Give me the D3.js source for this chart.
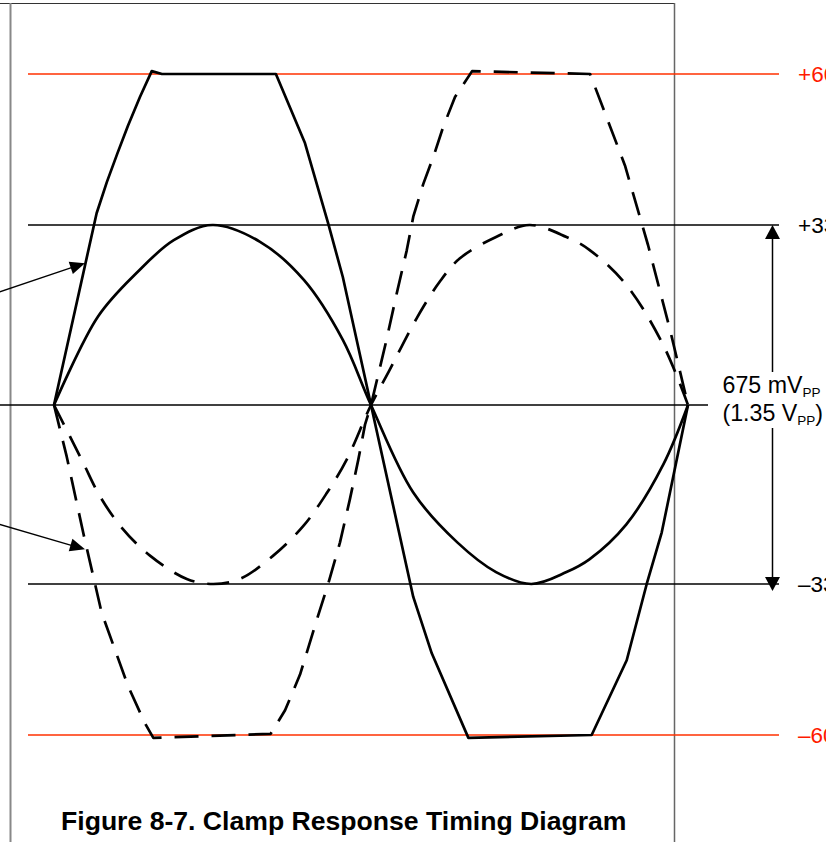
<!DOCTYPE html>
<html>
<head>
<meta charset="utf-8">
<script src="https://cdn.jsdelivr.net/npm/d3@7"></script>
<style>
  html, body { margin: 0; padding: 0; background: #fff; overflow: hidden; }
  svg { display: block; font-family: "Liberation Sans", Arial, sans-serif; }
</style>
</head>
<body>
<svg id="chart" width="826" height="842"></svg>
<script>
// ---- data (phase in degrees, level in mV) ----
const guideLevels = [600, 337.5, 0, -337.5, -600];
const guideLabels = ["+600 mV", "+337.5 mV", "", "\u2013337.5 mV", "\u2013600 mV"];
const guideColors = ["red", "black", "black", "black", "red"];

const smallSolidPhase = [0, 25, 47, 68, 90, 117, 142, 164, 180, 204, 229, 251, 271, 291, 304, 325, 346, 360];
const smallSolidMv    = [0, 166, 248, 309, 337.5, 306, 234, 122, 0, -165, -259, -315, -337.5, -315, -291, -225, -112, 0];

const smallDashPhase = [0, 15.7, 26.1, 38.4, 54.5, 75.4, 90.5, 105.6, 124.5, 141.6, 154.9, 166.2, 180, 190, 206, 219, 230.5, 251, 270, 291, 304, 325, 346, 360];
const smallDashMv    = [0, -103, -172, -231, -284, -328, -337.5, -328, -284, -228, -166, -103, 0, 62, 163, 231, 275, 315, 337.5, 315, 291, 225, 112, 0];

const clipSolidPhase = [0, 24.2, 30, 36, 42, 48.8, 55.5, 61.3, 126, 142.5, 155.6, 164, 180, 204, 214.5, 235.3, 305.3, 325.2, 336.6, 345.1, 360];
const clipSolidMv    = [0, 358, 412, 462, 510, 560, 605, 600, 600, 480, 341, 240, 0, -360, -458, -605, -600, -470, -337, -240, 0];

const clipDashPhase = [0, 7.2, 16.6, 27.1, 42.2, 51.7, 56.4, 123, 131.2, 139.7, 149.2, 155.8, 162.4, 168, 172.8, 176.6, 180, 188.8, 194.6, 200.3, 204, 209.7, 215.4, 221, 227.7, 237.4, 304.4, 324.2, 337.3, 349.8, 360];
const clipDashMv    = [0, -97, -241, -388, -516, -580, -605, -598, -557, -495, -400, -336, -259, -178, -103, -37, 0, 122, 209, 290, 352, 409, 456, 508, 560, 605, 600, 441, 300, 141, 0];

// annotation pointers (from off-chart callouts to the clipped curves)
const pointerFromPhase = [-31, -31];
const pointerFromMv    = [212, -225];
const pointerToPhase   = [17.6, 17.6];
const pointerToMv      = [266, -272];

const spanTop = 337.5, spanBottom = -337.5;
const titleText = "Figure 8-7. Clamp Response Timing Diagram";

// ---- scales ----
const svg = d3.select("#chart");
const x = d3.scaleLinear().domain([0, 360]).range([54, 688]);
const y = d3.scaleLinear().domain([-600, -337.5, 0, 337.5, 600]).range([735, 584, 405, 225, 74]);

const RED_LINE = "#ff3000", RED_TEXT = "#ff1a00";

// ---- frame ----
svg.append("line").attr("x1", 0).attr("x2", 675).attr("y1", 3.5).attr("y2", 3.5)
  .attr("stroke", "#333").attr("stroke-width", 1.2);
svg.append("line").attr("x1", 10.5).attr("x2", 10.5).attr("y1", 3).attr("y2", 842)
  .attr("stroke", "#888").attr("stroke-width", 2);
svg.append("line").attr("x1", 674.5).attr("x2", 674.5).attr("y1", 3).attr("y2", 842)
  .attr("stroke", "#666").attr("stroke-width", 1.5);

// ---- guide lines ----
guideLevels.forEach((lv, i) => {
  const isZero = lv === 0;
  svg.append("line")
    .attr("x1", isZero ? 0 : 28).attr("x2", isZero ? 708 : 779)
    .attr("y1", y(lv)).attr("y2", y(lv))
    .attr("stroke", guideColors[i] === "red" ? RED_LINE : "#000")
    .attr("stroke-width", 1.5);
  if (guideLabels[i]) {
    svg.append("text")
      .attr("x", 798).attr("y", y(lv) + 7.8)
      .attr("font-size", 22.5).attr("fill", guideColors[i] === "red" ? RED_TEXT : "#000")
      .text(guideLabels[i]);
  }
});

// ---- waveforms ----
function series(ph, mv) { return ph.map((p, i) => [p, mv[i]]); }
const smoothLine = d3.line().x(d => x(d[0])).y(d => y(d[1])).curve(d3.curveCatmullRom.alpha(0.5));
const polyLine = d3.line().x(d => x(d[0])).y(d => y(d[1])).curve(d3.curveLinear);

const waves = [
  { d: series(smallSolidPhase, smallSolidMv), gen: smoothLine, dash: null },
  { d: series(smallDashPhase, smallDashMv), gen: smoothLine, dash: "22,13" },
  { d: series(clipSolidPhase, clipSolidMv), gen: polyLine, dash: null },
  { d: series(clipDashPhase, clipDashMv), gen: polyLine, dash: "24,13" }
];
waves.forEach(w => {
  svg.append("path").attr("d", w.gen(w.d))
    .attr("fill", "none").attr("stroke", "#000").attr("stroke-width", 2.7)
    .attr("stroke-linejoin", "round")
    .attr("stroke-dasharray", w.dash);
});

// ---- pointers with arrowheads ----
function arrowHead(tipX, tipY, fromX, fromY, len, half) {
  const a = Math.atan2(tipY - fromY, tipX - fromX);
  const bx = tipX - len * Math.cos(a), by = tipY - len * Math.sin(a);
  const px = -Math.sin(a) * half, py = Math.cos(a) * half;
  return `M${tipX},${tipY}L${bx + px},${by + py}L${bx - px},${by - py}Z`;
}
pointerFromPhase.forEach((p, i) => {
  const fx = x(p), fy = y(pointerFromMv[i]);
  const tx = x(pointerToPhase[i]), ty = y(pointerToMv[i]);
  svg.append("line").attr("x1", fx).attr("y1", fy).attr("x2", tx - (tx - fx) * 0.08).attr("y2", ty - (ty - fy) * 0.08)
    .attr("stroke", "#000").attr("stroke-width", 1.3);
  svg.append("path").attr("d", arrowHead(tx, ty, fx, fy, 15, 6.5)).attr("fill", "#000");
});

// ---- span dimension arrow ----
const dimX = 772.5;
const yT = y(spanTop), yB = y(spanBottom);
svg.append("line").attr("x1", dimX).attr("x2", dimX).attr("y1", yT + 10).attr("y2", 372)
  .attr("stroke", "#000").attr("stroke-width", 1.5);
svg.append("line").attr("x1", dimX).attr("x2", dimX).attr("y1", 428).attr("y2", yB)
  .attr("stroke", "#000").attr("stroke-width", 1.5);
svg.append("path").attr("d", `M${dimX},${yT}L${dimX - 7.5},${yT + 14}L${dimX + 7.5},${yT + 14}Z`).attr("fill", "#000");
svg.append("path").attr("d", `M${dimX},${yB + 7}L${dimX - 7.5},${yB - 7}L${dimX + 7.5},${yB - 7}Z`).attr("fill", "#000");

const t1 = svg.append("text").attr("x", 722.5).attr("y", 393).attr("font-size", 23.2).attr("fill", "#000");
t1.append("tspan").text("675 mV");
t1.append("tspan").attr("font-size", 13.5).attr("dy", 3.5).text("PP");
const t2 = svg.append("text").attr("x", 722.5).attr("y", 421).attr("font-size", 23.2).attr("fill", "#000");
t2.append("tspan").text("(1.35 V");
t2.append("tspan").attr("font-size", 13.5).attr("dy", 3.5).text("PP");
t2.append("tspan").attr("dy", -3.5).text(")");

// ---- title ----
svg.append("text").attr("x", 61).attr("y", 830).attr("font-size", 26.6).attr("font-weight", "bold")
  .attr("fill", "#000").text(titleText);
</script>
</body>
</html>
